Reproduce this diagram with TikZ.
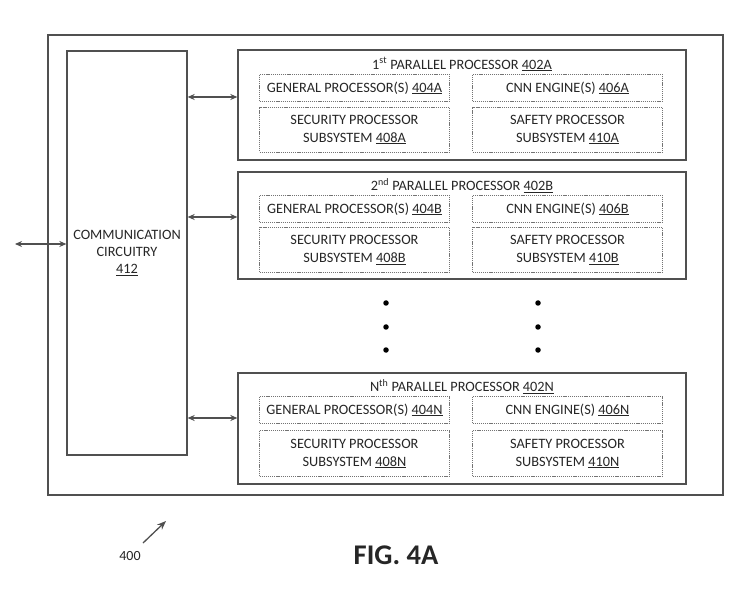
\documentclass[tikz,border=0pt]{standalone}
\usepackage{fontspec}
\setmainfont{Carlito}
\usetikzlibrary{arrows.meta,calc}
\definecolor{ln}{HTML}{505050}
\definecolor{tx}{HTML}{262626}
\tikzset{
  box/.style={draw=ln,line width=1.3pt,rectangle,inner sep=0pt},
  dbox/.style={draw=ln!80,line width=0.9pt,dash pattern=on 1.2pt off 0.9pt,rectangle,inner sep=0pt,minimum width=190pt,align=center,font=\fontsize{14.3}{18}\selectfont,text=tx},
  ttl/.style={font=\fontsize{14.3}{17}\selectfont,text=tx,inner sep=0pt},
  arr/.style={draw=ln,line width=1.3pt,{Stealth[length=7pt,width=6pt]}-{Stealth[length=7pt,width=6pt]}},
  dotc/.style={fill=black,circle,inner sep=0pt,minimum size=5.5pt}
}
\begin{document}
\begin{tikzpicture}[x=1pt,y=-1pt]
\useasboundingbox (0,0) rectangle (741,609);
\node[box,minimum width=675pt,minimum height=460pt] (outer) at (385.5,265) {};
\node[box,minimum width=120pt,minimum height=404pt,align=center,font=\fontsize{14.3}{16.8}\selectfont,text=tx] (comm) at (127,253) {COMMUNICATION\\CIRCUITRY\\\underline{412}};
% parallel processors
\node[box,minimum width=448pt,minimum height=110pt] (pp1) at (462,105) {};
\node[box,minimum width=448pt,minimum height=107pt] (pp2) at (462,225.5) {};
\node[box,minimum width=448pt,minimum height=111pt] (ppn) at (462,428.5) {};
\node[ttl] (t1) at ($(pp1.north)+(0,15)$) {1\textsuperscript{st} PARALLEL PROCESSOR \underline{402A}};
\node[ttl] (t2) at ($(pp2.north)+(0,14)$) {2\textsuperscript{nd} PARALLEL PROCESSOR \underline{402B}};
\node[ttl] (tn) at ($(ppn.north)+(0,14)$) {N\textsuperscript{th} PARALLEL PROCESSOR \underline{402N}};
% box 1
\node[dbox,minimum height=27pt] (g1) at (354.5,88) {GENERAL PROCESSOR(S) \underline{404A}};
\node[dbox,minimum height=27pt] (c1) at (567.5,88) {CNN ENGINE(S) \underline{406A}};
\node[dbox,minimum height=45pt] (s1) at (354.5,129.5) {SECURITY PROCESSOR\\SUBSYSTEM \underline{408A}};
\node[dbox,minimum height=45pt] (f1) at (567.5,129.5) {SAFETY PROCESSOR\\SUBSYSTEM \underline{410A}};
% box 2
\node[dbox,minimum height=27pt] (g2) at (354.5,209) {GENERAL PROCESSOR(S) \underline{404B}};
\node[dbox,minimum height=27pt] (c2) at (567.5,209) {CNN ENGINE(S) \underline{406B}};
\node[dbox,minimum height=45pt] (s2) at (354.5,250) {SECURITY PROCESSOR\\SUBSYSTEM \underline{408B}};
\node[dbox,minimum height=45pt] (f2) at (567.5,250) {SAFETY PROCESSOR\\SUBSYSTEM \underline{410B}};
% box N
\node[dbox,minimum height=27pt] (gn) at (354.5,410) {GENERAL PROCESSOR(S) \underline{404N}};
\node[dbox,minimum height=27pt] (cn) at (567.5,410) {CNN ENGINE(S) \underline{406N}};
\node[dbox,minimum height=46pt] (sn) at (354.5,453.5) {SECURITY PROCESSOR\\SUBSYSTEM \underline{408N}};
\node[dbox,minimum height=46pt] (fn) at (567.5,453.5) {SAFETY PROCESSOR\\SUBSYSTEM \underline{410N}};
% arrows
\draw[arr] (comm.east |- 0,97) -- (pp1.west |- 0,97);
\draw[arr] (comm.east |- 0,217) -- (pp2.west |- 0,217);
\draw[arr] (comm.east |- 0,418) -- (ppn.west |- 0,418);
\coordinate (ext) at (15,244);
\draw[arr] (ext) -- (comm.west |- ext);
% dots
\foreach \y [count=\i] in {303,327,350}{
  \node[dotc] (dl\i) at (386,\y) {};
  \node[dotc] (dr\i) at (538,\y) {};
}
% labels
\node[font=\fontsize{14}{16}\selectfont,text=tx] (lab) at (130,556) {400};
\coordinate (a0) at (143,543);
\coordinate (a1) at (166,521);
\draw[draw=ln,line width=1.3pt,-{Stealth[length=9pt,width=7pt]}] (a0) -- (a1);
\node[font=\fontsize{28.5}{32}\selectfont\bfseries,text=black!85] (fig) at (396,555) {FIG. 4A};
\end{tikzpicture}
\end{document}
